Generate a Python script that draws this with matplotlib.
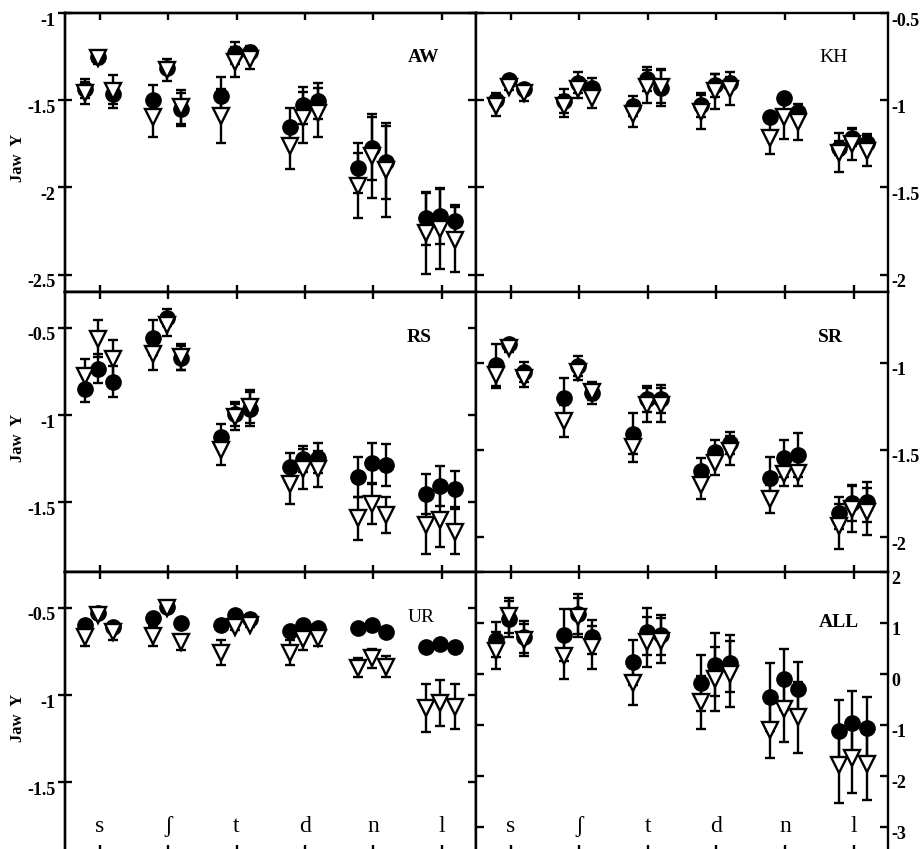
import numpy as np
import matplotlib
matplotlib.use('Agg')
import matplotlib.pyplot as plt
from matplotlib.transforms import ScaledTranslation

# ---------------- data ----------------
categories = ['s', 'ʃ', 't', 'd', 'n', 'l']

aw_circle = [-1.434, -1.25, -1.467, -1.50, -1.314, -1.552, -1.476, -1.229, -1.225,
             -1.653, -1.53, -1.505, -1.89, -1.775, -1.857, -2.177, -2.166, -2.194]
aw_circle_err = [0.054, 0.02, 0.057, 0.087, 0.028, 0.095, 0.11, 0.063, 0.035,
                 0.106, 0.107, 0.101, 0.143, 0.181, 0.209, 0.152, 0.16, 0.095]
aw_tri = [-1.457, -1.26, -1.45, -1.594, -1.328, -1.537, -1.59, -1.282, -1.261,
          -1.762, -1.60, -1.571, -1.99, -1.82, -1.90, -2.263, -2.238, -2.30]
aw_tri_err = [0.063, 0.03, 0.093, 0.116, 0.062, 0.097, 0.157, 0.086, 0.059,
              0.133, 0.147, 0.139, 0.187, 0.243, 0.271, 0.232, 0.229, 0.186]

kh_circle = [-1.001, -0.887, -0.938, -1.005, -0.90, -0.929, -1.033, -0.877, -0.929,
             -1.03, -0.913, -0.90, -1.094, -0.99, -1.066, -1.275, -1.214, -1.243]
kh_circle_err = [0.04, 0.02, 0.03, 0.067, 0.061, 0.054, 0.057, 0.068, 0.105,
                 0.069, 0.066, 0.032, 0.02, 0.02, 0.02, 0.042, 0.047, 0.048]
kh_tri = [-1.033, -0.923, -0.961, -1.033, -0.938, -0.986, -1.081, -0.923, -0.923,
          -1.068, -0.948, -0.934, -1.214, -1.094, -1.125, -1.30, -1.252, -1.29]
kh_tri_err = [0.057, 0.02, 0.044, 0.061, 0.052, 0.057, 0.07, 0.095, 0.095,
              0.099, 0.101, 0.096, 0.096, 0.126, 0.103, 0.11, 0.092, 0.086]

rs_circle = [-0.851, -0.733, -0.809, -0.555, -0.441, -0.672, -1.124, -0.994, -0.966,
             -1.30, -1.252, -1.248, -1.357, -1.277, -1.286, -1.452, -1.406, -1.424]
rs_circle_err = [0.073, 0.082, 0.09, 0.099, 0.048, 0.069, 0.072, 0.07, 0.096,
                 0.081, 0.076, 0.086, 0.115, 0.115, 0.118, 0.114, 0.114, 0.105]
rs_tri = [-0.775, -0.561, -0.676, -0.647, -0.485, -0.666, -1.20, -1.01, -0.952,
          -1.395, -1.311, -1.309, -1.592, -1.511, -1.573, -1.63, -1.601, -1.668]
rs_tri_err = [0.099, 0.105, 0.109, 0.092, 0.063, 0.073, 0.086, 0.076, 0.096,
              0.115, 0.115, 0.105, 0.124, 0.115, 0.101, 0.168, 0.157, 0.13]

sr_circle = [-1.013, -0.893, -1.052, -1.20, -1.019, -1.176, -1.408, -1.208, -1.208,
             -1.618, -1.51, -1.458, -1.662, -1.548, -1.529, -1.863, -1.805, -1.796]
sr_circle_err = [0.12, 0.02, 0.058, 0.11, 0.059, 0.063, 0.118, 0.074, 0.08,
                 0.074, 0.067, 0.063, 0.12, 0.105, 0.128, 0.092, 0.105, 0.115]
sr_tri = [-1.071, -0.918, -1.09, -1.334, -1.055, -1.17, -1.481, -1.242, -1.242,
          -1.70, -1.576, -1.504, -1.781, -1.637, -1.634, -1.939, -1.838, -1.853]
sr_tri_err = [0.076, 0.02, 0.047, 0.09, 0.045, 0.044, 0.086, 0.096, 0.096,
              0.082, 0.067, 0.082, 0.078, 0.069, 0.072, 0.128, 0.13, 0.137]

ur_circle = [-0.599, -0.532, -0.609, -0.555, -0.494, -0.584, -0.599, -0.542, -0.565,
             -0.632, -0.599, -0.613, -0.618, -0.599, -0.641, -0.723, -0.708, -0.723]
ur_circle_err = [0.01] * 18
ur_tri = [-0.666, -0.542, -0.637, -0.66, -0.50, -0.698, -0.756, -0.609, -0.599,
          -0.756, -0.679, -0.67, -0.842, -0.79, -0.838, -1.076, -1.044, -1.067]
ur_tri_err = [0.052, 0.01, 0.048, 0.058, 0.01, 0.041, 0.07, 0.02, 0.01,
              0.072, 0.06, 0.049, 0.057, 0.057, 0.061, 0.138, 0.132, 0.13]

all_circle = [0.673, 1.078, 0.719, 0.765, 1.176, 0.732, 0.229, 0.83, 0.765,
              -0.176, 0.183, 0.209, -0.458, -0.111, -0.294, -1.124, -0.967, -1.065]
all_circle_err = [0.34, 0.35, 0.314, 0.51, 0.393, 0.333, 0.444, 0.464, 0.398,
                  0.555, 0.621, 0.562, 0.667, 0.601, 0.523, 0.614, 0.627, 0.607]
all_tri = [0.458, 1.144, 0.673, 0.359, 1.111, 0.523, -0.176, 0.621, 0.654,
           -0.556, -0.098, 0.0, -1.111, -0.699, -0.85, -1.797, -1.647, -1.778]
all_tri_err = [0.36, 0.35, 0.314, 0.457, 0.379, 0.425, 0.445, 0.49, 0.438,
               0.522, 0.634, 0.654, 0.543, 0.641, 0.699, 0.739, 0.693, 0.706]

aw_ticks = [-1, -1.5, -2, -2.5]
kh_ticks = [-0.5, -1, -1.5, -2]
rs_ticks = [-0.5, -1, -1.5]
sr_ticks = [-1, -1.5, -2]
ur_ticks = [-0.5, -1, -1.5]
all_ticks = [2, 1, 0, -1, -2, -3]

# ---------------- layout ----------------
W, H = 921, 849
fig = plt.figure(figsize=(W / 100, H / 100), dpi=100)
SERIF = ['Liberation Serif', 'DejaVu Serif']
plt.rcParams['font.family'] = SERIF

def rect(x0, x1, ytop, ybot):
    return [x0 / W, 1 - ybot / H, (x1 - x0) / W, (ybot - ytop) / H]

XL = (65, 475.7)
XR = (475.7, 888)
ROWS = [(13, 292), (292, 572), (572, 852)]
sub_offsets = [-0.22, -0.02, 0.19]
LW = 1.7

panels = [
    dict(name='AW', c=aw_circle, ce=aw_circle_err, t=aw_tri, te=aw_tri_err,
         ylim=(-2.6, -1.0), ticks=aw_ticks, side='left', row=0, bold=True, lab=(0.874, 0.842)),
    dict(name='KH', c=kh_circle, ce=kh_circle_err, t=kh_tri, te=kh_tri_err,
         ylim=(-2.1, -0.5), ticks=kh_ticks, side='right', row=0, bold=False, lab=(0.867, 0.842)),
    dict(name='RS', c=rs_circle, ce=rs_circle_err, t=rs_tri, te=rs_tri_err,
         ylim=(-1.9, -0.294), ticks=rs_ticks, side='left', row=1, bold=True, lab=(0.862, 0.839)),
    dict(name='SR', c=sr_circle, ce=sr_circle_err, t=sr_tri, te=sr_tri_err,
         ylim=(-2.2, -0.594), ticks=sr_ticks, side='right', row=1, bold=True, lab=(0.861, 0.839)),
    dict(name='UR', c=ur_circle, ce=ur_circle_err, t=ur_tri, te=ur_tri_err,
         ylim=(-1.9, -0.294), ticks=ur_ticks, side='left', row=2, bold=False, lab=(0.867, 0.839)),
    dict(name='ALL', c=all_circle, ce=all_circle_err, t=all_tri, te=all_tri_err,
         ylim=(-3.5, 2.0), ticks=all_ticks, side='right', row=2, bold=True, lab=(0.881, 0.818)),
]

xpos = np.array([i + 1 + o for i in range(len(categories)) for o in sub_offsets])
shift = ScaledTranslation(0, -0.06, fig.dpi_scale_trans)

def fmt(v):
    return '%g' % v

for p in panels:
    xs = XL if p['side'] == 'left' else XR
    ytop, ybot = ROWS[p['row']]
    ax = fig.add_axes(rect(xs[0], xs[1], ytop, ybot))
    ax.errorbar(xpos, p['c'], yerr=p['ce'], fmt='o', color='black', ms=11,
                capsize=3.8, elinewidth=LW, capthick=LW, zorder=2)
    ax.errorbar(xpos, p['t'], yerr=p['te'], fmt='v', mfc='white', mec='black',
                ecolor='black', ms=11, mew=LW, capsize=3.8, elinewidth=LW,
                capthick=LW, zorder=3)
    ax.set_xlim(0.49, 6.5)
    ax.set_ylim(*p['ylim'])
    ax.set_xticks(np.arange(1, len(categories) + 1))
    ax.set_yticks(p['ticks'], [fmt(v) for v in p['ticks']])
    for sp in ax.spines.values():
        sp.set_linewidth(LW)
    ax.tick_params(axis='x', direction='in', length=5, width=LW, top=True, bottom=True,
                   labelbottom=False, labeltop=False)
    if p['side'] == 'left':
        ax.tick_params(axis='y', direction='inout', length=10, width=LW, left=True,
                       right=False, labelleft=True, labelright=False, pad=2.0)
        tw = ax.twinx()
        tw.set_ylim(*p['ylim'])
        tw.set_yticks(p['ticks'])
        tw.tick_params(axis='y', direction='in', length=6, width=LW, labelright=False)
        for sp in tw.spines.values():
            sp.set_linewidth(LW)
    else:
        ax.tick_params(axis='y', direction='in', length=6, width=LW, left=True,
                       right=True, labelleft=False, labelright=True, pad=2.5)
    for lab in ax.get_yticklabels():
        lab.set_fontweight('bold')
        lab.set_fontsize(13)
        lab.set_family(SERIF)
        lab.set_transform(lab.get_transform() + shift)
    ax.text(p['lab'][0], p['lab'][1], p['name'], transform=ax.transAxes,
            ha='center', va='center', fontsize=14,
            fontweight='bold' if p['bold'] else 'normal', family=SERIF)
    if p['side'] == 'left':
        ax.text(-0.114, 0.48, 'Jaw  Y', rotation=90, transform=ax.transAxes,
                ha='center', va='center', fontsize=12, fontweight='bold', family=SERIF)
    if p['row'] == 2:
        for i, c in enumerate(categories):
            ax.text(i + 1, 0.09, c, transform=ax.get_xaxis_transform(),
                    ha='center', va='center', fontsize=17, family=SERIF)

fig.savefig('out.png', dpi=100)
